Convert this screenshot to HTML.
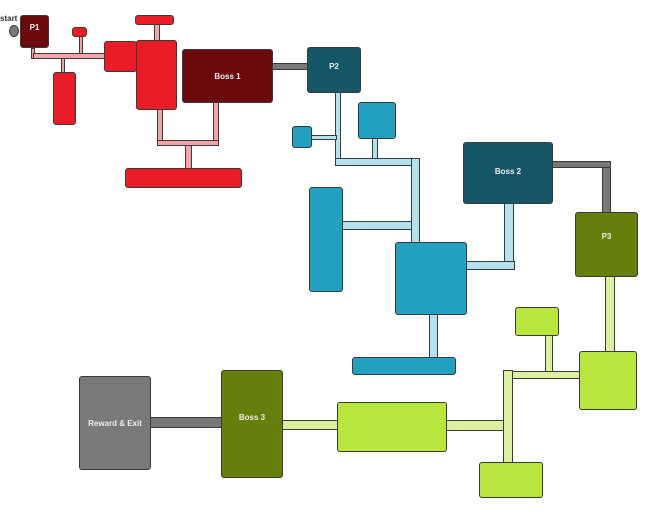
<!DOCTYPE html>
<html><head><style>
body{margin:0;width:657px;height:520px;background:#fff;position:relative;overflow:hidden;font-family:"Liberation Sans",sans-serif}
div{position:absolute;box-sizing:border-box;border:1px solid #3a3a3a}
.r{border-radius:3px}
.dr{background:#6b0a0c}.rd{background:#ec1c26}.pk{background:#f4a3a6}
.dt{background:#145767}.tl{background:#22a0c0}.lb{background:#b3e1ed}
.ol{background:#657f0b}.lm{background:#b8e63c}.pg{background:#dcf0a0}
.gy{background:#7a7a7a}.gc{background:#777}
.t{color:#eee;font-size:8px;font-weight:bold;display:flex;align-items:center;justify-content:center}
</style></head><body>
<span style="position:absolute;left:0;top:14px;font-size:8px;font-weight:bold;color:#333">start</span>
<div class="gy" style="left:9px;top:25px;width:10px;height:12px;border-radius:50%"></div>
<!-- red corridors -->
<div class="pk" style="left:31px;top:48px;width:4px;height:11px"></div>
<div class="pk" style="left:33px;top:53px;width:72px;height:6px"></div>
<div class="pk" style="left:79px;top:35px;width:4px;height:19px"></div>
<div class="pk" style="left:61px;top:58px;width:4px;height:15px"></div>
<div class="pk" style="left:154px;top:24px;width:6px;height:17px"></div>
<div class="pk" style="left:157px;top:109px;width:6px;height:33px"></div>
<div class="pk" style="left:213px;top:102px;width:6px;height:40px"></div>
<div class="pk" style="left:157px;top:140px;width:62px;height:6px"></div>
<div class="pk" style="left:185px;top:145px;width:7px;height:24px"></div>
<div class="gc" style="left:272px;top:63px;width:37px;height:7px"></div>
<div class="dr r t" style="left:20px;top:15px;width:29px;height:33px;align-items:flex-start;padding-top:7px">P1</div>
<div class="rd r" style="left:72px;top:27px;width:15px;height:10px"></div>
<div class="rd r" style="left:53px;top:72px;width:23px;height:53px"></div>
<div class="rd r" style="left:104px;top:41px;width:33px;height:31px"></div>
<div class="rd r" style="left:136px;top:40px;width:41px;height:70px"></div>
<div class="rd r" style="left:135px;top:15px;width:39px;height:10px"></div>
<div class="dr r t" style="left:182px;top:49px;width:91px;height:54px">Boss 1</div>
<div class="rd r" style="left:125px;top:168px;width:117px;height:20px"></div>
<!-- blue corridors -->
<div class="lb" style="left:335px;top:92px;width:6px;height:68px"></div>
<div class="lb" style="left:311px;top:135px;width:26px;height:5px"></div>
<div class="lb" style="left:372px;top:138px;width:6px;height:21px"></div>
<div class="lb" style="left:335px;top:158px;width:85px;height:8px"></div>
<div class="lb" style="left:411px;top:158px;width:9px;height:85px"></div>
<div class="lb" style="left:342px;top:221px;width:70px;height:9px"></div>
<div class="lb" style="left:466px;top:261px;width:49px;height:9px"></div>
<div class="lb" style="left:504px;top:203px;width:10px;height:59px"></div>
<div class="lb" style="left:429px;top:314px;width:9px;height:44px"></div>
<div class="gc" style="left:552px;top:161px;width:59px;height:7px"></div>
<div class="gc" style="left:602px;top:167px;width:9px;height:46px"></div>
<div class="dt r t" style="left:307px;top:47px;width:54px;height:46px;align-items:flex-start;padding-top:14px">P2</div>
<div class="tl r" style="left:292px;top:126px;width:20px;height:22px"></div>
<div class="tl r" style="left:358px;top:102px;width:38px;height:37px"></div>
<div class="tl r" style="left:309px;top:187px;width:34px;height:105px"></div>
<div class="tl r" style="left:395px;top:242px;width:72px;height:73px"></div>
<div class="dt r t" style="left:463px;top:142px;width:90px;height:62px;align-items:flex-start;padding-top:24px">Boss 2</div>
<div class="tl r" style="left:352px;top:357px;width:104px;height:18px"></div>
<!-- green corridors -->
<div class="pg" style="left:605px;top:276px;width:10px;height:77px"></div>
<div class="pg" style="left:545px;top:335px;width:8px;height:37px"></div>
<div class="pg" style="left:503px;top:370px;width:10px;height:93px"></div>
<div class="pg" style="left:512px;top:371px;width:68px;height:8px"></div>
<div class="pg" style="left:446px;top:420px;width:58px;height:11px"></div>
<div class="pg" style="left:282px;top:420px;width:56px;height:10px"></div>
<div class="gc" style="left:150px;top:417px;width:72px;height:11px"></div>
<div class="ol r t" style="left:575px;top:212px;width:63px;height:65px;align-items:flex-start;padding-top:19px">P3</div>
<div class="lm r" style="left:515px;top:307px;width:44px;height:29px"></div>
<div class="lm r" style="left:579px;top:351px;width:58px;height:59px"></div>
<div class="lm r" style="left:479px;top:462px;width:64px;height:36px"></div>
<div class="lm r" style="left:337px;top:402px;width:110px;height:50px"></div>
<div class="ol r t" style="left:221px;top:370px;width:62px;height:108px;align-items:flex-start;padding-top:42px">Boss 3</div>
<div class="gy r t" style="left:79px;top:376px;width:72px;height:94px">Reward &amp; Exit</div>
</body></html>
